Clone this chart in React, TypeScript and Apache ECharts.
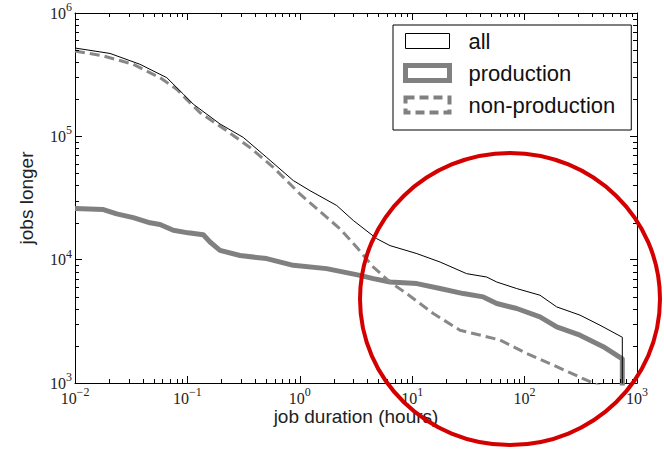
import React, { useEffect, useRef } from "react";
import * as echarts from "echarts";

// job duration (hours) / jobs longer — "all"
const allX = [0.01, 0.0205, 0.0378, 0.0655, 0.092, 0.113, 0.195, 0.314, 0.507, 0.875, 1.23, 2.13, 2.99, 4.83, 6.35, 11.0, 17.7, 30.5, 46.0, 56.5, 85.1, 137, 193, 311, 469, 740, 740];
const allY = [520000, 470000, 384000, 299000, 220000, 182000, 126000, 98000, 67500, 43800, 36300, 27500, 20800, 14800, 13000, 11200, 9570, 7700, 7230, 6590, 5830, 5150, 4140, 3550, 2940, 2350, 800];

// "production"
const prodX = [0.01, 0.0179, 0.0235, 0.033, 0.0465, 0.057, 0.0749, 0.1015, 0.1385, 0.159, 0.195, 0.294, 0.507, 0.875, 1.73, 3.43, 4.51, 6.35, 11.0, 17.7, 28.5, 42.9, 56.5, 85.1, 137, 193, 311, 501, 740, 740];
const prodY = [26000, 25500, 23500, 21900, 19900, 19300, 17300, 16500, 15900, 13900, 11900, 10800, 10200, 9000, 8460, 7460, 7020, 6590, 6400, 5830, 5310, 4990, 4410, 4020, 3440, 2850, 2440, 1970, 1570, 800];

// "non-production"
const npX = [0.01, 0.0179, 0.033, 0.057, 0.0803, 0.1015, 0.129, 0.2237, 0.36, 0.581, 1.0, 1.73, 2.28, 3.21, 4.51, 6.35, 8.93, 15.4, 26.6, 60.4, 104, 193, 382, 700];
const npY = [492000, 448000, 384000, 299000, 241000, 194000, 156000, 111000, 81300, 56100, 34200, 22100, 17800, 12600, 8710, 6590, 5310, 3660, 2680, 2230, 1740, 1355, 1024, 800];

const seriesNames = ["all", "production", "non-production"];
const xTitle = "job duration (hours)";
const yTitle = "jobs longer";

const xMin = 0.01;
const xMax = 1000;
const yMin = 1000;
const yMax = 1000000;

// minor tick positions (2..9 within each decade)
const xDecadeStarts = [0.01, 0.1, 1, 10, 100];
const yDecadeStarts = [1000, 10000, 100000];
const minorMultipliers = [2, 3, 4, 5, 6, 7, 8, 9];

const pairs = (xs: number[], ys: number[]) => xs.map((x, i) => [x, ys[i]]);

export default function App() {
  const ref = useRef<HTMLDivElement>(null);

  useEffect(() => {
    if (!ref.current) return;
    const chart = echarts.init(ref.current, null, { renderer: "svg" });

    const serif = "'Liberation Serif', 'DejaVu Serif', serif";
    const sans = "'Liberation Sans', Arial, sans-serif";
    const labelColor = "#222";

    const sup = (v: number) => {
      const e = Math.round(Math.log10(v));
      const s = e < 0 ? "\u2212" + -e : String(e);
      return `{b|10}{e|${s}}`;
    };
    const rich = {
      b: { fontFamily: serif, fontSize: 16, color: labelColor },
      e: { fontFamily: serif, fontSize: 12, color: labelColor, padding: [0, 0, 12, 0] },
    };

    const xMinor: number[][] = [];
    xDecadeStarts.forEach((d) => minorMultipliers.forEach((m) => xMinor.push([d * m, yMin])));
    const yMinor: number[][] = [];
    yDecadeStarts.forEach((d) => minorMultipliers.forEach((m) => yMinor.push([xMin, d * m])));

    const axisLine = { show: true, onZero: false, lineStyle: { color: "#000", width: 1 } };
    const majorTick = { show: true, inside: true, length: 7, lineStyle: { color: "#000", width: 1 } };

    const option: any = {
      animation: false,
      backgroundColor: "#fff",
      grid: { left: 75, right: 27, top: 13, bottom: 66, containLabel: false, outerBoundsMode: "none" },
      legend: {
        orient: "vertical",
        left: 393,
        top: 25,
        padding: [5, 16, 14, 10],
        itemWidth: 44,
        itemHeight: 15,
        itemGap: 10,
        borderColor: "#000",
        borderWidth: 1,
        borderRadius: 0,
        backgroundColor: "#fff",
        selectedMode: false,
        textStyle: { fontSize: 22, fontFamily: sans, color: "#111", padding: [0, 0, 0, 14] },
        data: [
          { name: seriesNames[0], icon: "rect", itemStyle: { color: "#fff", borderColor: "#000", borderWidth: 1 } },
          { name: seriesNames[1], icon: "rect", itemStyle: { color: "#fff", borderColor: "#808080", borderWidth: 5 } },
          { name: seriesNames[2], icon: "rect", itemStyle: { color: "#fff", borderColor: "#808080", borderWidth: 4, borderType: [9, 5] } },
        ],
      },
      xAxis: [
        {
          type: "log",
          logBase: 10,
          min: xMin,
          max: xMax,
          position: "bottom",
          axisLine,
          axisTick: majorTick,
          splitLine: { show: false },
          axisLabel: { formatter: sup, rich, margin: 3 },
          name: xTitle,
          nameLocation: "middle",
          nameGap: 24,
          nameMoveOverlap: false,
          nameTextStyle: { fontFamily: sans, fontSize: 19, color: labelColor },
        },
        {
          type: "log",
          logBase: 10,
          min: xMin,
          max: xMax,
          position: "top",
          axisLine,
          axisTick: majorTick,
          splitLine: { show: false },
          axisLabel: { show: false },
        },
      ],
      yAxis: [
        {
          type: "log",
          logBase: 10,
          min: yMin,
          max: yMax,
          position: "left",
          axisLine,
          axisTick: majorTick,
          splitLine: { show: false },
          axisLabel: { formatter: sup, rich, margin: 3 },
          name: yTitle,
          nameLocation: "middle",
          nameGap: 39,
          nameMoveOverlap: false,
          nameTextStyle: { fontFamily: sans, fontSize: 19, color: labelColor },
        },
        {
          type: "log",
          logBase: 10,
          min: yMin,
          max: yMax,
          position: "right",
          axisLine,
          axisTick: majorTick,
          splitLine: { show: false },
          axisLabel: { show: false },
        },
      ],
      series: [
        {
          type: "line",
          name: seriesNames[1],
          data: pairs(prodX, prodY),
          symbol: "none",
          clip: true,
          lineStyle: { color: "#808080", width: 5, join: "round" },
          itemStyle: { color: "#808080" },
          z: 2,
        },
        {
          type: "line",
          name: seriesNames[2],
          data: pairs(npX, npY),
          symbol: "none",
          clip: true,
          lineStyle: { color: "#888888", width: 3, type: [10, 5] },
          itemStyle: { color: "#888888" },
          z: 3,
        },
        {
          type: "line",
          name: seriesNames[0],
          data: pairs(allX, allY),
          symbol: "none",
          clip: true,
          lineStyle: { color: "#000", width: 1 },
          itemStyle: { color: "#000" },
          z: 4,
        },
        {
          type: "custom",
          xAxisIndex: 0,
          yAxisIndex: 0,
          silent: true,
          data: xMinor,
          z: 5,
          renderItem: (params: any, api: any) => {
            const cs = params.coordSys;
            const x = Math.round(api.coord([api.value(0), yMin])[0]) + 0.5;
            const yb = cs.y + cs.height;
            const yt = cs.y;
            return {
              type: "group",
              children: [
                { type: "line", shape: { x1: x, y1: yb, x2: x, y2: yb - 4 }, style: { stroke: "#000", lineWidth: 1 } },
                { type: "line", shape: { x1: x, y1: yt, x2: x, y2: yt + 4 }, style: { stroke: "#000", lineWidth: 1 } },
              ],
            };
          },
        },
        {
          type: "custom",
          xAxisIndex: 0,
          yAxisIndex: 0,
          silent: true,
          data: yMinor,
          z: 5,
          renderItem: (params: any, api: any) => {
            const cs = params.coordSys;
            const y = Math.round(api.coord([xMin, api.value(1)])[1]) + 0.5;
            const xl = cs.x;
            const xr = cs.x + cs.width;
            return {
              type: "group",
              children: [
                { type: "line", shape: { x1: xl, y1: y, x2: xl + 4, y2: y }, style: { stroke: "#000", lineWidth: 1 } },
                { type: "line", shape: { x1: xr, y1: y, x2: xr - 4, y2: y }, style: { stroke: "#000", lineWidth: 1 } },
              ],
            };
          },
        },
      ],
      graphic: [
        {
          type: "ellipse",
          shape: { cx: 510, cy: 299, rx: 150, ry: 146 },
          style: { fill: "none", stroke: "#d40000", lineWidth: 4 },
          z: 100,
          silent: true,
        },
      ],
    };

    chart.setOption(option);
    return () => chart.dispose();
  }, []);

  return <div ref={ref} style={{ position: "fixed", left: 0, top: 0, width: 664, height: 449 }} />;
}
